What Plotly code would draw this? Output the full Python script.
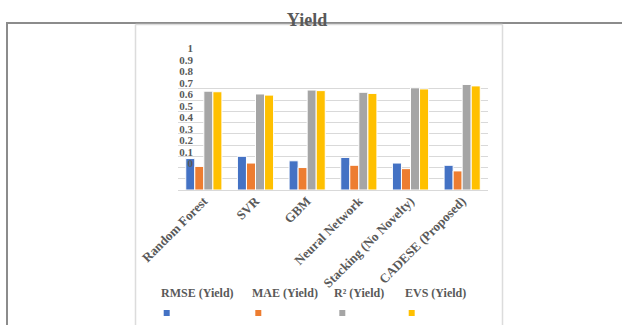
import plotly.graph_objects as go

# Models compared
MODELS = ["Random Forest", "SVR", "GBM", "Neural Network",
          "Stacking (No Novelty)", "CADESE (Proposed)"]

# Metric series (yield prediction)
SERIES = ["RMSE (Yield)", "MAE (Yield)", "R² (Yield)", "EVS (Yield)"]
RMSE = [0.28, 0.30, 0.26, 0.29, 0.24, 0.22]
MAE = [0.21, 0.24, 0.20, 0.22, 0.19, 0.17]
R2 = [0.88, 0.855, 0.89, 0.87, 0.91, 0.94]
EVS = [0.875, 0.845, 0.885, 0.86, 0.90, 0.927]
VALUES = [RMSE, MAE, R2, EVS]

# Value-axis labels
Y_TICKS = [0, 0.1, 0.2, 0.3, 0.4, 0.5, 0.6, 0.7, 0.8, 0.9, 1]
Y_LABELS = ["0", "0.1", "0.2", "0.3", "0.4", "0.5", "0.6", "0.7", "0.8", "0.9", "1"]

COLORS = ["#4472C4", "#ED7D31", "#A5A5A5", "#FFC000"]
TEXT = "#595959"
SERIF = "Liberation Serif"

W, H = 622, 325
ML, MR, MT, MB = 178, 134, 48, 135
PW, PH = W - ML - MR, H - MT - MB


def px_x(px):
    return (px - ML) / PW


def px_y(py):
    return (H - MB - py) / PH


fig = go.Figure()
for name, vals, col in zip(SERIES, VALUES, COLORS):
    fig.add_trace(go.Bar(
        x=MODELS, y=vals, name=name,
        marker=dict(color=col, line=dict(color="white", width=1)),
        showlegend=False,
    ))

# carrier trace for the label axis
fig.add_trace(go.Scatter(x=[], y=[], yaxis="y2", showlegend=False,
                         hoverinfo="skip"))

font_b = dict(family=SERIF, size=12, color=TEXT, weight="bold")
font_x = dict(family=SERIF, size=13, color=TEXT, weight="bold")
font_y = dict(family=SERIF, size=11, color=TEXT, weight="bold")

shapes = [
    # outer frame
    dict(type="line", xref="paper", yref="paper",
         x0=px_x(6), x1=px_x(622), y0=px_y(23), y1=px_y(23),
         line=dict(color="#8c8c8c", width=2)),
    dict(type="line", xref="paper", yref="paper",
         x0=px_x(7), x1=px_x(7), y0=px_y(23), y1=px_y(325),
         line=dict(color="#8c8c8c", width=2)),
    # inner chart box
    dict(type="line", xref="paper", yref="paper",
         x0=px_x(135.5), x1=px_x(502.5), y0=px_y(24.5), y1=px_y(24.5),
         line=dict(color="#dcdcdc", width=1.5)),
    dict(type="line", xref="paper", yref="paper",
         x0=px_x(135.5), x1=px_x(135.5), y0=px_y(24.5), y1=px_y(325),
         line=dict(color="#dcdcdc", width=1.5)),
    dict(type="line", xref="paper", yref="paper",
         x0=px_x(502.5), x1=px_x(502.5), y0=px_y(24.5), y1=px_y(325),
         line=dict(color="#dcdcdc", width=1.5)),
]

# legend: names on one row, colour keys on the row below
LEG_TEXT_X = [197, 285, 359, 435]
LEG_KEY_X = [166.7, 258.3, 342.3, 411.7]
annotations = []
for name, tx, kx, col in zip(SERIES, LEG_TEXT_X, LEG_KEY_X, COLORS):
    annotations.append(dict(
        text=name, xref="paper", yref="paper", x=px_x(tx), y=px_y(293),
        xanchor="center", yanchor="middle", showarrow=False, font=font_b))
    shapes.append(dict(
        type="rect", xref="paper", yref="paper",
        x0=px_x(kx - 3), x1=px_x(kx + 3), y0=px_y(316), y1=px_y(310),
        fillcolor=col, line=dict(width=0)))

fig.update_layout(
    width=W, height=H,
    margin=dict(l=ML, r=MR, t=MT, b=MB, pad=0),
    paper_bgcolor="white", plot_bgcolor="rgba(0,0,0,0)",
    barmode="group", bargap=0.3, bargroupgap=0,
    title=dict(text="Yield", xref="container", yref="container",
               x=307 / W, y=1 - 20 / H, xanchor="center", yanchor="middle",
               font=dict(family=SERIF, size=18, color=TEXT, weight="bold")),
    xaxis=dict(type="category", tickangle=-45, tickfont=font_x,
               showline=False, ticks="", showgrid=False, automargin=False),
    yaxis=dict(range=[0, 1], dtick=0.1, domain=[0, px_y(77.7)],
               showticklabels=False, ticks="", showline=False,
               gridcolor="#d9d9d9", gridwidth=1,
               zeroline=True, zerolinecolor="#d9d9d9", zerolinewidth=1,
               automargin=False),
    yaxis2=dict(range=[0, 1], domain=[px_y(163.5), px_y(48.5)],
                anchor="free", position=px_x(193), side="left",
                tickmode="array", tickvals=Y_TICKS, ticktext=Y_LABELS,
                tickfont=font_y, showgrid=False, zeroline=False,
                showline=False, ticks="", automargin=False),
    shapes=shapes,
    annotations=annotations,
    hovermode=False,
)

fig.write_html("out.html")
